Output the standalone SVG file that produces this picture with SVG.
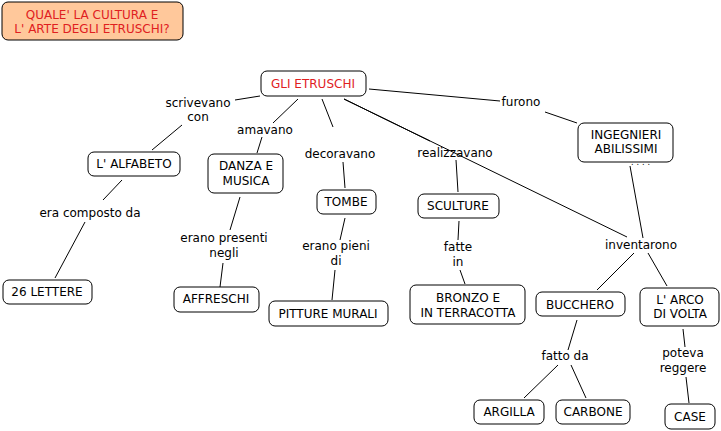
<svg xmlns="http://www.w3.org/2000/svg" width="721" height="431" viewBox="0 0 721 431">
<style>
text{font-family:"DejaVu Sans","Verdana",sans-serif;font-size:12px;text-anchor:middle;fill:#000}
.n rect{fill:#fff;stroke:#000;stroke-width:1}
.red{fill:#e0201f}
#links line{stroke:#000;stroke-width:1}
</style>
<rect width="721" height="431" fill="#fff"/>
<g id="links">
<line x1="260" y1="96" x2="235" y2="100"/>
<line x1="182" y1="125" x2="152" y2="150"/>
<line x1="298" y1="99" x2="273" y2="123"/>
<line x1="262" y1="137" x2="257" y2="153"/>
<line x1="322" y1="99" x2="333" y2="127"/>
<line x1="343" y1="162" x2="345" y2="188"/>
<line x1="344" y1="99" x2="430" y2="141"/>
<line x1="344" y1="99" x2="627" y2="237"/>
<line x1="456" y1="160" x2="458" y2="192"/>
<line x1="459" y1="221" x2="458" y2="240"/>
<line x1="460" y1="270" x2="465" y2="284"/>
<line x1="369" y1="89" x2="500" y2="101"/>
<line x1="545" y1="112" x2="577" y2="123"/>
<line x1="630" y1="166" x2="643" y2="238"/>
<line x1="634" y1="253" x2="597" y2="290"/>
<line x1="648" y1="253" x2="667" y2="286"/>
<line x1="122" y1="180" x2="103" y2="200"/>
<line x1="85" y1="222" x2="55" y2="278"/>
<line x1="240" y1="197" x2="230" y2="230"/>
<line x1="223" y1="263" x2="220" y2="287"/>
<line x1="345" y1="218" x2="340" y2="240"/>
<line x1="335" y1="270" x2="332" y2="300"/>
<line x1="577" y1="320" x2="568" y2="350"/>
<line x1="558" y1="365" x2="524" y2="398"/>
<line x1="571" y1="365" x2="586" y2="398"/>
<line x1="683" y1="329" x2="685" y2="347"/>
<line x1="686" y1="377" x2="689" y2="403"/>
</g>
<g id="labels">
<text x="198" y="107">scrivevano</text>
<text x="198" y="121">con</text>
<text x="265" y="134">amavano</text>
<text x="340" y="158">decoravano</text>
<text x="455" y="157">realizzavano</text>
<text x="521" y="106">furono</text>
<text x="641" y="249">inventarono</text>
<text x="90" y="217">era composto da</text>
<text x="224" y="242">erano presenti</text>
<text x="224" y="257">negli</text>
<text x="336" y="250">erano pieni</text>
<text x="336" y="265">di</text>
<text x="458" y="251">fatte</text>
<text x="458" y="266">in</text>
<text x="565" y="360">fatto da</text>
<text x="683" y="357">poteva</text>
<text x="683" y="372">reggere</text>
</g>
<g id="title" class="n"><rect x="2" y="2" width="181" height="38" rx="6" style="fill:#ffc89b"/><text class="red" x="92" y="19">QUALE' LA CULTURA E</text><text class="red" x="92" y="33">L' ARTE DEGLI ETRUSCHI?</text></g>
<g id="etruschi" class="n"><rect x="261" y="71" width="105" height="25" rx="6"/><text class="red" x="313" y="88">GLI ETRUSCHI</text></g>
<g id="alfabeto" class="n"><rect x="88" y="152" width="92" height="24" rx="6"/><text x="134" y="168">L' ALFABETO</text></g>
<g id="danza" class="n"><rect x="208" y="154" width="75" height="39" rx="6"/><text x="246" y="170">DANZA E</text><text x="246" y="185">MUSICA</text></g>
<g id="tombe" class="n"><rect x="317" y="190" width="59" height="24" rx="6"/><text x="346" y="206">TOMBE</text></g>
<g id="sculture" class="n"><rect x="418" y="194" width="81" height="24" rx="6"/><text x="458" y="210">SCULTURE</text></g>
<g id="ingegnieri" class="n"><rect x="578" y="123" width="95" height="39" rx="6"/><text x="626" y="139">INGEGNIERI</text><text x="626" y="153">ABILISSIMI</text><text x="642" y="165" style="font-size:8px;letter-spacing:3px">....</text></g>
<g id="lettere" class="n"><rect x="3" y="280" width="89" height="24" rx="6"/><text x="47" y="296">26 LETTERE</text></g>
<g id="affreschi" class="n"><rect x="174" y="287" width="85" height="25" rx="6"/><text x="216" y="303">AFFRESCHI</text></g>
<g id="pitture" class="n"><rect x="269" y="301" width="119" height="25" rx="6"/><text x="328" y="318">PITTURE MURALI</text></g>
<g id="bronzo" class="n"><rect x="410" y="285" width="115" height="39" rx="6"/><text x="468" y="302">BRONZO E</text><text x="468" y="317">IN TERRACOTTA</text></g>
<g id="bucchero" class="n"><rect x="536" y="292" width="89" height="24" rx="6"/><text x="580" y="309">BUCCHERO</text></g>
<g id="arco" class="n"><rect x="640" y="288" width="79" height="38" rx="6"/><text x="680" y="304">L' ARCO</text><text x="680" y="318">DI VOLTA</text></g>
<g id="argilla" class="n"><rect x="474" y="400" width="70" height="24" rx="6"/><text x="509" y="416">ARGILLA</text></g>
<g id="carbone" class="n"><rect x="556" y="400" width="74" height="24" rx="6"/><text x="593" y="416">CARBONE</text></g>
<g id="case" class="n"><rect x="665" y="404" width="50" height="25" rx="6"/><text x="690" y="421">CASE</text></g>
</svg>
